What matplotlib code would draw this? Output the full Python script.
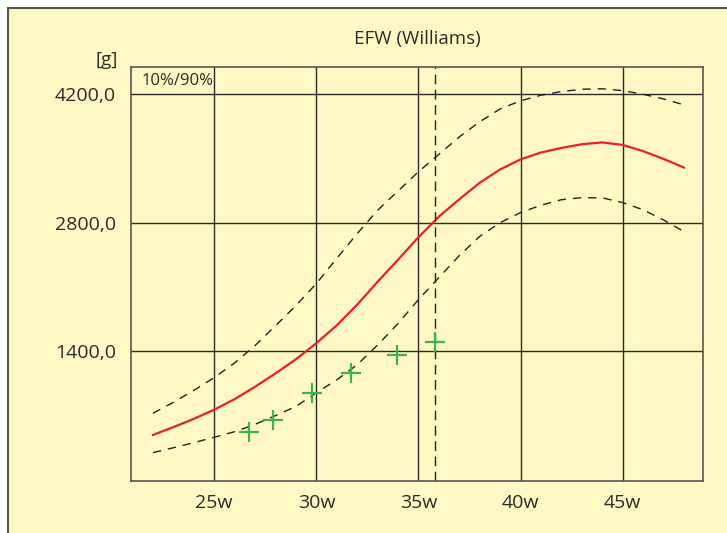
import numpy as np
import matplotlib.pyplot as plt
from matplotlib.patches import Rectangle

plt.rcParams['font.family'] = ['Open Sans', 'DejaVu Sans']

# gestational age in weeks
weeks = [22, 23, 24, 25, 26, 27, 28, 29, 30, 31, 32, 33, 34, 35,
         36, 37, 38, 39, 40, 41, 42, 43, 44, 45, 46, 47, 48]
# estimated fetal weight [g] (Williams)
p50 = [484, 570, 660, 760, 875, 1010, 1155, 1310, 1485, 1680, 1905, 2155, 2395, 2641,
       2865, 3055, 3235, 3380, 3490, 3565, 3615, 3655, 3675, 3648, 3580, 3495, 3401]
p90 = [721, 840, 970, 1110, 1270, 1460, 1675, 1895, 2135, 2410, 2680, 2935, 3145, 3355,
       3545, 3735, 3900, 4040, 4129, 4190, 4230, 4255, 4260, 4240, 4200, 4150, 4085]
p10 = [291, 345, 400, 459, 520, 600, 695, 795, 945, 1085, 1250, 1465, 1700, 1960,
       2200, 2440, 2650, 2800, 2910, 2990, 3050, 3073, 3070, 3019, 2940, 2830, 2702]

# measurements
meas_weeks = [26.7, 27.9, 29.8, 31.7, 33.95, 35.8]
meas_efw = [515, 650, 940, 1160, 1355, 1495]
current_week = 35.82

xticks = [25, 30, 35, 40, 45]
xlabels = ['25w', '30w', '35w', '40w', '45w']
yticks = [1400, 2800, 4200]
ylabels = ['1400,0', '2800,0', '4200,0']

bg = '#fff8c4'
ink = '#2b2b2b'

fig = plt.figure(figsize=(7.27, 5.33), dpi=100)
fig.patch.set_facecolor('white')
# yellow panel with border at left/top
fig.patches.append(Rectangle((8 / 727, -0.2), 1.2, 1.2 - 8 / 533,
                             transform=fig.transFigure, facecolor=bg,
                             edgecolor='#555555', linewidth=1.5, zorder=-5))

ax = fig.add_axes([131.3 / 727, 52 / 533, 571.4 / 727, 414.3 / 533])
ax.set_zorder(2)
ax.set_facecolor(bg)
ax.set_xlim(20.94, 48.92)
ax.set_ylim(-18, 4501)

ax.set_xticks(xticks)
ax.set_xticklabels(xlabels, fontsize=14, color=ink)
ax.set_yticks(yticks)
ax.set_yticklabels(ylabels, fontsize=14, color=ink)
ax.tick_params(axis='x', length=0, pad=9)
ax.tick_params(axis='y', length=0, pad=11)
ax.grid(True, color='#2a2a2a', linewidth=1.0)
ax.set_axisbelow(True)
for s in ax.spines.values():
    s.set_color('#555555')
    s.set_linewidth(1.2)

ax.plot(weeks, p90, color='#222222', linewidth=1.0, dashes=(6, 5))
ax.plot(weeks, p10, color='#222222', linewidth=1.0, dashes=(6, 5))
ax.plot(weeks, p50, color='#e8202a', linewidth=1.6)
ax.axvline(current_week, color='#222222', linewidth=1.0, dashes=(7, 4))
ax.plot(meas_weeks, meas_efw, linestyle='none', marker='+', markersize=14,
        markeredgewidth=1.6, color='#3cb44a')

ax.set_title('EFW (Williams)', fontsize=13.5, color=ink, pad=16)
fig.text(118 / 727, 1 - 60 / 533, '[g]', fontsize=13.5, color=ink,
         ha='right', va='center', zorder=3)
ax.text(0.018, 0.985, '10%/90%', transform=ax.transAxes, fontsize=12,
        color=ink, ha='left', va='top')

fig.savefig('out.png', dpi=100, facecolor=fig.get_facecolor())
